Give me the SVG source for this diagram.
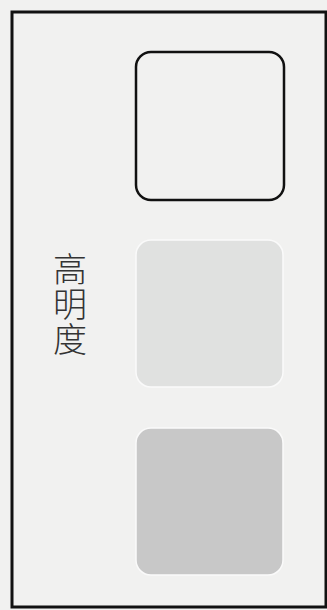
<svg xmlns="http://www.w3.org/2000/svg" width="327" height="610" viewBox="0 0 327 610">
<style>
.lbl{font-family:"Noto Sans CJK SC","Noto Sans CJK JP",sans-serif;font-size:34px;font-weight:300;fill:#333;writing-mode:vertical-rl;letter-spacing:1px}
</style>
<rect x="0" y="0" width="327" height="610" fill="#f1f1f0"/>
<g id="frame"><rect x="12" y="12" width="314" height="595" fill="none" stroke="#111" stroke-width="3"/></g>
<g id="label">
<text class="lbl" x="70" y="252">高明度</text>
</g>
<g id="box1"><rect x="136" y="52" width="148" height="148" rx="15" fill="none" stroke="#111" stroke-width="2.5"/></g>
<g id="box2"><rect x="136" y="240" width="147" height="147" rx="15" fill="#e0e1e0" stroke="#fafafa" stroke-width="1.5"/></g>
<g id="box3"><rect x="136" y="428" width="147" height="147" rx="15" fill="#c8c8c8" stroke="#fafafa" stroke-width="1.5"/></g>
<g id="connectors"></g>
</svg>
